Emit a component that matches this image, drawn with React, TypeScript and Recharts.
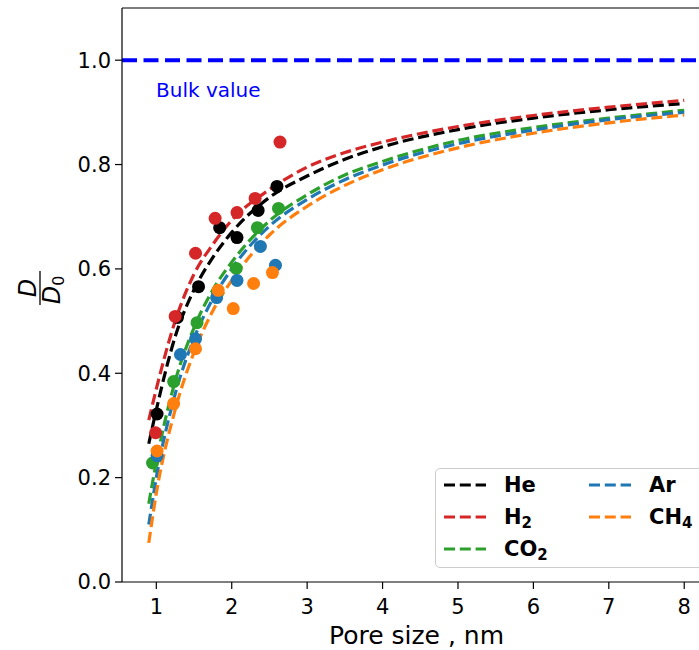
import React from 'react';
import { ComposedChart, Line, Scatter, XAxis, YAxis, ReferenceLine } from 'recharts';

// ---- data ----
const fitX = [0.9, 1.0, 1.25, 1.5, 1.75, 2, 2.5, 3, 3.5, 4, 5, 6, 7, 8];
const heFit = [0.265, 0.33, 0.47, 0.56, 0.622, 0.67, 0.737, 0.778, 0.81, 0.834, 0.867, 0.889, 0.905, 0.917];
const h2Fit = [0.31, 0.37, 0.5, 0.59, 0.647, 0.693, 0.752, 0.795, 0.823, 0.843, 0.873, 0.894, 0.91, 0.923];
const co2Fit = [0.15, 0.23, 0.385, 0.487, 0.56, 0.613, 0.692, 0.742, 0.78, 0.806, 0.846, 0.871, 0.889, 0.904];
const arFit = [0.11, 0.2, 0.36, 0.467, 0.543, 0.6, 0.682, 0.733, 0.771, 0.799, 0.84, 0.866, 0.886, 0.9];
const ch4Fit = [0.075, 0.17, 0.33, 0.44, 0.52, 0.578, 0.665, 0.72, 0.76, 0.79, 0.832, 0.86, 0.88, 0.895];

const heX = [1.01, 1.28, 1.56, 1.84, 2.07, 2.35, 2.6];
const heY = [0.322, 0.507, 0.566, 0.679, 0.66, 0.712, 0.758];
const h2X = [0.99, 1.25, 1.52, 1.78, 2.07, 2.31, 2.64];
const h2Y = [0.286, 0.509, 0.63, 0.697, 0.708, 0.735, 0.843];
const co2X = [0.95, 1.23, 1.54, 1.81, 2.06, 2.34, 2.62];
const co2Y = [0.228, 0.384, 0.497, 0.555, 0.601, 0.679, 0.716];
const arX = [1.01, 1.32, 1.52, 1.8, 2.07, 2.38, 2.58];
const arY = [0.242, 0.436, 0.466, 0.545, 0.578, 0.643, 0.607];
const ch4X = [1.01, 1.23, 1.52, 1.82, 2.02, 2.29, 2.54];
const ch4Y = [0.251, 0.342, 0.447, 0.559, 0.524, 0.572, 0.593];

const xTicks = [1, 2, 3, 4, 5, 6, 7, 8];
const yTicks = [0, 0.2, 0.4, 0.6, 0.8, 1.0];
const bulkValue = 1.0;
const xDomain = [0.545, 8.355];
const yDomain = [0, 1.1];

const toPts = (xs: number[], ys: number[]) => xs.map((x, i) => ({ x, y: ys[i] }));

const FONT = '"DejaVu Sans", sans-serif';

const series = [
  { key: 'He', main: 'He', sub: '', color: '#000000', fit: heFit, sx: heX, sy: heY },
  { key: 'H2', main: 'H', sub: '2', color: '#d62728', fit: h2Fit, sx: h2X, sy: h2Y },
  { key: 'CO2', main: 'CO', sub: '2', color: '#2ca02c', fit: co2Fit, sx: co2X, sy: co2Y },
  { key: 'Ar', main: 'Ar', sub: '', color: '#1f77b4', fit: arFit, sx: arX, sy: arY },
  { key: 'CH4', main: 'CH', sub: '4', color: '#ff7f0e', fit: ch4Fit, sx: ch4X, sy: ch4Y },
];

const legendPos: Record<string, [number, number]> = {
  He: [0, 0], H2: [0, 1], CO2: [0, 2], Ar: [1, 0], CH4: [1, 1],
};

const Dot = (props: any) => {
  const { cx, cy, fill } = props;
  if (cx == null || cy == null) return null;
  return <circle cx={cx} cy={cy} r={6.5} fill={fill} />;
};

export default function App() {
  return (
    <div style={{ position: 'absolute', left: 0, top: 0, width: 699, height: 650, overflow: 'hidden', background: '#fff', fontFamily: FONT }}>
      <ComposedChart width={716} height={650} margin={{ top: 8, right: 5, bottom: 0, left: 0 }}>
        <XAxis
          type="number"
          dataKey="x"
          domain={xDomain}
          allowDataOverflow
          ticks={xTicks}
          tickSize={7}
          tickMargin={10}
          height={68}
          stroke="#000"
          strokeWidth={1.2}
          tick={{ fontSize: 21, fill: '#000', fontFamily: FONT }}
          tickLine={{ stroke: '#000', strokeWidth: 1.2 }}
          label={{ value: 'Pore size , nm', position: 'insideBottom', offset: 6, fontSize: 25, fill: '#000', fontFamily: FONT }}
        />
        <YAxis
          type="number"
          dataKey="y"
          domain={yDomain}
          allowDataOverflow
          ticks={yTicks}
          tickFormatter={(v: number) => v.toFixed(1)}
          tickSize={7}
          tickMargin={4}
          width={122}
          stroke="#000"
          strokeWidth={1.2}
          tick={{ fontSize: 21, fill: '#000', fontFamily: FONT }}
          tickLine={{ stroke: '#000', strokeWidth: 1.2 }}
        />
        <ReferenceLine y={1.1} stroke="#000" strokeWidth={1.2} />
        <ReferenceLine y={bulkValue} stroke="#0000ff" strokeWidth={4} strokeDasharray="15 6.5" />
        {series.map((s) => (
          <Scatter
            key={'s' + s.key}
            data={toPts(s.sx, s.sy)}
            dataKey="y"
            fill={s.color}
            shape={<Dot />}
            isAnimationActive={false}
          />
        ))}
        {series.map((s) => (
          <Line
            key={'l' + s.key}
            data={toPts(fitX, s.fit)}
            dataKey="y"
            type="monotone"
            stroke={s.color}
            strokeWidth={3.2}
            strokeDasharray="11 4.8"
            dot={false}
            activeDot={false}
            isAnimationActive={false}
          />
        ))}
      </ComposedChart>

      {/* y-axis label D / D0 */}
      <svg style={{ position: 'absolute', left: 0, top: 0 }} width={120} height={650}>
        <g transform="translate(40,288) rotate(-90)" fontFamily={FONT} fontSize={24} fontStyle="italic" fill="#000">
          <text x={0} y={-4} textAnchor="middle">D</text>
          <line x1={-17} x2={17} y1={0} y2={0} stroke="#000" strokeWidth={1.3} />
          <text x={-2} y={20} textAnchor="middle">D<tspan fontSize={16} dy={4} fontStyle="normal">0</tspan></text>
        </g>
      </svg>

      {/* Bulk value annotation */}
      <svg style={{ position: 'absolute', left: 0, top: 0, pointerEvents: 'none' }} width={699} height={650}>
        <text x={156} y={97} fontFamily={FONT} fontSize={20} fill="#0000ff">Bulk value</text>
      </svg>

      {/* legend */}
      <div style={{ position: 'absolute', left: 435, top: 468, width: 300, height: 100, border: '1.5px solid #cccccc', borderRadius: 5, background: 'rgba(255,255,255,0.85)', boxSizing: 'border-box' }}>
        {series.map((s) => {
          const [col, row] = legendPos[s.key];
          const lx = col === 0 ? 7 : 152;
          const cy = 16 + row * 32;
          return (
            <div key={s.key} style={{ position: 'absolute', left: lx, top: cy - 14, height: 28, display: 'flex', alignItems: 'center' }}>
              <svg width={44} height={28} style={{ display: 'block' }}>
                <line x1={1} x2={43} y1={14} y2={14} stroke={s.color} strokeWidth={3} strokeDasharray="11 4.8" />
              </svg>
              <span style={{ marginLeft: 17, fontWeight: 'bold', fontSize: 21, fontFamily: FONT, color: '#000', lineHeight: '28px', whiteSpace: 'nowrap' }}>
                {s.main}
                {s.sub ? <sub style={{ fontSize: 15, verticalAlign: '-4px', lineHeight: 0 }}>{s.sub}</sub> : null}
              </span>
            </div>
          );
        })}
      </div>
    </div>
  );
}
